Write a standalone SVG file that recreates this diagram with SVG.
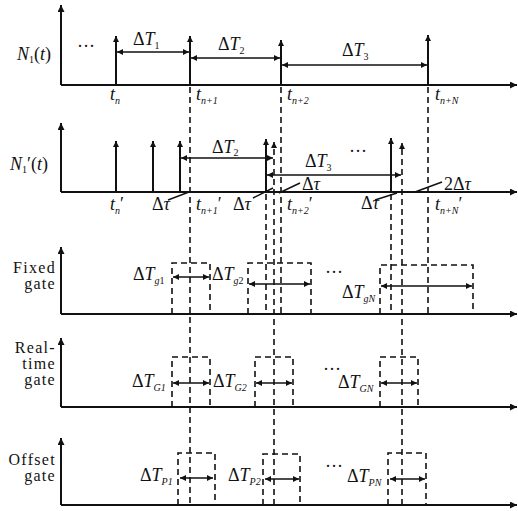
<svg xmlns="http://www.w3.org/2000/svg" width="518" height="511" viewBox="0 0 518 511">
<defs>
<marker id="ah" viewBox="0 0 10 10" refX="10" refY="5" markerUnits="userSpaceOnUse" markerWidth="9" markerHeight="7" orient="auto-start-reverse">
<path d="M0,0 L10,5 L0,10 z" fill="#111"/>
</marker>
<marker id="ahs" viewBox="0 0 10 10" refX="10" refY="5" markerUnits="userSpaceOnUse" markerWidth="8" markerHeight="6" orient="auto-start-reverse">
<path d="M0,0 L10,5 L0,10 z" fill="#111"/>
</marker>
<style>
.ax{stroke:#111;stroke-width:2;fill:none}
.imp{stroke:#111;stroke-width:2;fill:none}
.dim{stroke:#111;stroke-width:1.6;fill:none}
.dash{stroke:#111;stroke-width:1.6;fill:none;stroke-dasharray:6,4}
.lead{stroke:#111;stroke-width:1.4;fill:none}
text{font-family:"Liberation Serif","Times New Roman",serif;fill:#111}
.m{font-size:18px}
.lab{font-size:16px;letter-spacing:1.3px}
.i{font-style:italic}
.s{font-size:10px;font-style:italic}
.su{font-size:10px}
</style>
</defs>

<g id="axes">
<path class="ax" d="M61,85 V5" marker-end="url(#ah)"/>
<path class="ax" d="M61,85 H517" marker-end="url(#ah)"/>
<path class="ax" d="M61,192 V123" marker-end="url(#ah)"/>
<path class="ax" d="M61,192 H517" marker-end="url(#ah)"/>
<path class="ax" d="M61,314 V247" marker-end="url(#ah)"/>
<path class="ax" d="M61,314 H517" marker-end="url(#ah)"/>
<path class="ax" d="M61,407 V338" marker-end="url(#ah)"/>
<path class="ax" d="M61,407 H517" marker-end="url(#ah)"/>
<path class="ax" d="M61,505 V438" marker-end="url(#ah)"/>
<path class="ax" d="M61,505 H517" marker-end="url(#ah)"/>
</g>

<g id="connectors">
<path class="dash" d="M190,87 V505"/>
<path class="dash" d="M281,87 V314"/>
<path class="dash" d="M428,87 V314"/>
<path class="dash" d="M266,194 V314"/>
<path class="dash" d="M391,194 V314"/>
<path class="dash" d="M274,505 V142" marker-end="url(#ahs)"/>
<path class="dash" d="M402,505 V143" marker-end="url(#ahs)"/>
<path class="imp" d="M116,85 V36" marker-end="url(#ahs)"/>
<path class="imp" d="M190,85 V36" marker-end="url(#ahs)"/>
<path class="imp" d="M281,85 V40" marker-end="url(#ahs)"/>
<path class="imp" d="M428,85 V35" marker-end="url(#ahs)"/>
<path class="imp" d="M116,192 V141" marker-end="url(#ahs)"/>
<path class="imp" d="M153,192 V141" marker-end="url(#ahs)"/>
<path class="imp" d="M180,192 V141" marker-end="url(#ahs)"/>
<path class="imp" d="M266,192 V139" marker-end="url(#ahs)"/>
<path class="imp" d="M391,192 V138" marker-end="url(#ahs)"/>
<path class="dim" d="M117,52 H189" marker-start="url(#ahs)" marker-end="url(#ahs)"/>
<path class="dim" d="M191,58 H280" marker-start="url(#ahs)" marker-end="url(#ahs)"/>
<path class="dim" d="M282,65 H427" marker-start="url(#ahs)" marker-end="url(#ahs)"/>
<path class="dim" d="M181,158 H273" marker-start="url(#ahs)" marker-end="url(#ahs)"/>
<path class="dim" d="M267,175 H401" marker-start="url(#ahs)" marker-end="url(#ahs)"/>
<path class="lead" d="M168,200 L189,192"/>
<path class="lead" d="M253,198 L273,188"/>
<path class="lead" d="M279,193 L300,183"/>
<path class="lead" d="M375,200 L397,193"/>
<path class="lead" d="M415,192 L442,182"/>
<path class="dash" d="M172,314 V263 H210 V314"/>
<path class="dash" d="M248,314 V263 H311 V314"/>
<path class="dash" d="M380,314 V265 H473 V314"/>
<path class="dim" d="M173,277 H209" marker-start="url(#ahs)" marker-end="url(#ahs)"/>
<path class="dim" d="M249,284 H310" marker-start="url(#ahs)" marker-end="url(#ahs)"/>
<path class="dim" d="M381,286 H472" marker-start="url(#ahs)" marker-end="url(#ahs)"/>
<path class="dash" d="M172,407 V357 H210 V407"/>
<path class="dash" d="M255,407 V357 H293 V407"/>
<path class="dash" d="M380,407 V357 H418 V407"/>
<path class="dim" d="M173,383 H209" marker-start="url(#ahs)" marker-end="url(#ahs)"/>
<path class="dim" d="M256,383 H292" marker-start="url(#ahs)" marker-end="url(#ahs)"/>
<path class="dim" d="M381,383 H417" marker-start="url(#ahs)" marker-end="url(#ahs)"/>
<path class="dash" d="M178,505 V453 H215 V505"/>
<path class="dash" d="M263,505 V454 H300 V505"/>
<path class="dash" d="M388,505 V453 H426 V505"/>
<path class="dim" d="M180,478 H213" marker-start="url(#ahs)" marker-end="url(#ahs)"/>
<path class="dim" d="M265,479 H299" marker-start="url(#ahs)" marker-end="url(#ahs)"/>
<path class="dim" d="M390,479 H425" marker-start="url(#ahs)" marker-end="url(#ahs)"/>
</g>

<g id="panel1-labels">
<text class="m" x="17" y="60" font-size="19"><tspan class="i">N</tspan><tspan class="su" dy="3">1</tspan><tspan dy="-3">(</tspan><tspan class="i">t</tspan>)</text>
<text class="m" x="77" y="52">···</text>
<text class="m" x="133" y="45">Δ<tspan class="i">T</tspan><tspan class="su" dy="4">1</tspan></text>
<text class="m" x="218" y="50">Δ<tspan class="i">T</tspan><tspan class="su" dy="4">2</tspan></text>
<text class="m" x="342" y="56">Δ<tspan class="i">T</tspan><tspan class="su" dy="4">3</tspan></text>
<text class="m" x="110" y="100"><tspan class="i">t</tspan><tspan class="s" dy="4">n</tspan></text>
<text class="m" x="196" y="100"><tspan class="i">t</tspan><tspan class="s" dy="4">n+1</tspan></text>
<text class="m" x="287" y="100"><tspan class="i">t</tspan><tspan class="s" dy="4">n+2</tspan></text>
<text class="m" x="435" y="100"><tspan class="i">t</tspan><tspan class="s" dy="4">n+N</tspan></text>
</g>

<g id="panel2-labels">
<text class="m" x="10" y="170"><tspan class="i">N</tspan><tspan class="su" dy="3">1</tspan><tspan dy="-3">′(</tspan><tspan class="i">t</tspan>)</text>
<text class="m" x="212" y="153">Δ<tspan class="i">T</tspan><tspan class="su" dy="3">2</tspan></text>
<text class="m" x="305" y="167">Δ<tspan class="i">T</tspan><tspan class="su" dy="4">3</tspan></text>
<text class="m" x="349" y="157">···</text>
<text class="m" x="110" y="210"><tspan class="i">t</tspan><tspan class="s" dy="4">n</tspan><tspan dy="-4">′</tspan></text>
<text class="m" x="152" y="210">Δ<tspan class="i">τ</tspan></text>
<text class="m" x="196" y="210"><tspan class="i">t</tspan><tspan class="s" dy="4">n+1</tspan><tspan dy="-4">′</tspan></text>
<text class="m" x="233" y="210">Δ<tspan class="i">τ</tspan></text>
<text class="m" x="287" y="210"><tspan class="i">t</tspan><tspan class="s" dy="4">n+2</tspan><tspan dy="-4">′</tspan></text>
<text class="m" x="302" y="190">Δ<tspan class="i">τ</tspan></text>
<text class="m" x="361" y="209">Δ<tspan class="i">τ</tspan></text>
<text class="m" x="435" y="210"><tspan class="i">t</tspan><tspan class="s" dy="4">n+N</tspan><tspan dy="-4">′</tspan></text>
<text class="m" x="444" y="190">2Δ<tspan class="i">τ</tspan></text>
</g>

<g id="panel3-labels">
<text class="lab" x="56" y="273" text-anchor="end">Fixed</text>
<text class="lab" x="56" y="289" text-anchor="end">gate</text>
<text class="m" x="133" y="280">Δ<tspan class="i">T</tspan><tspan class="s" dy="4">g</tspan><tspan class="su">1</tspan></text>
<text class="m" x="212" y="280">Δ<tspan class="i">T</tspan><tspan class="s" dy="4">g</tspan><tspan class="su">2</tspan></text>
<text class="m" x="325" y="278">···</text>
<text class="m" x="342" y="298">Δ<tspan class="i">T</tspan><tspan class="s" dy="4">gN</tspan></text>
</g>

<g id="panel4-labels">
<text class="lab" x="56" y="353" text-anchor="end">Real-</text>
<text class="lab" x="56" y="369" text-anchor="end">time</text>
<text class="lab" x="56" y="385" text-anchor="end">gate</text>
<text class="m" x="132" y="387">Δ<tspan class="i">T</tspan><tspan class="s" dy="4">G1</tspan></text>
<text class="m" x="213" y="387">Δ<tspan class="i">T</tspan><tspan class="s" dy="4">G2</tspan></text>
<text class="m" x="323" y="375">···</text>
<text class="m" x="338" y="388">Δ<tspan class="i">T</tspan><tspan class="s" dy="4">GN</tspan></text>
</g>

<g id="panel5-labels">
<text class="lab" x="56" y="465" text-anchor="end">Offset</text>
<text class="lab" x="56" y="481" text-anchor="end">gate</text>
<text class="m" x="140" y="481">Δ<tspan class="i">T</tspan><tspan class="s" dy="4">P1</tspan></text>
<text class="m" x="228" y="481">Δ<tspan class="i">T</tspan><tspan class="s" dy="4">P2</tspan></text>
<text class="m" x="325" y="472">···</text>
<text class="m" x="347" y="482">Δ<tspan class="i">T</tspan><tspan class="s" dy="4">PN</tspan></text>
</g>
</svg>
